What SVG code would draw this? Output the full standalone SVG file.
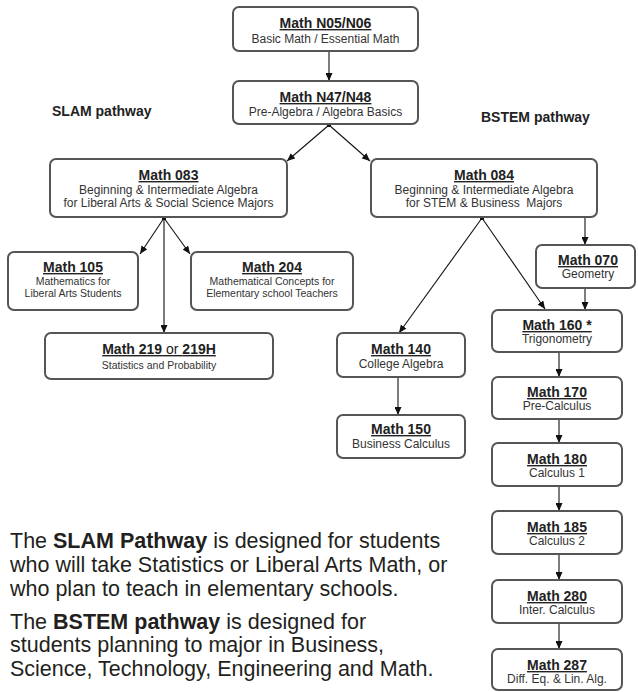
<svg xmlns="http://www.w3.org/2000/svg" width="638" height="692" viewBox="0 0 638 692">
<style>
.box{fill:#fff;stroke:#555;stroke-width:2}
.t{font-family:"Liberation Sans",Arial,sans-serif;font-weight:bold;font-size:14px;fill:#222;text-anchor:middle;text-decoration:underline}
.s{font-family:"Liberation Sans",Arial,sans-serif;font-size:12px;fill:#333;text-anchor:middle}
.ss{font-family:"Liberation Sans",Arial,sans-serif;font-size:10.5px;fill:#333;text-anchor:middle}
.lab{font-family:"Liberation Sans",Arial,sans-serif;font-weight:bold;font-size:14px;fill:#222}
.para{font-family:"Liberation Sans",Arial,sans-serif;font-size:21.5px;fill:#231f20}
.c{stroke:#111;stroke-width:1.1;fill:none;marker-end:url(#ah)}
.n{font-weight:normal}
</style>
<defs>
<marker id="ah" markerUnits="userSpaceOnUse" markerWidth="8" markerHeight="7" refX="8" refY="3.5" orient="auto">
<path d="M0,0 L8,3.5 L0,7 z" fill="#111"/>
</marker>
</defs>
<rect width="638" height="692" fill="#fff"/>

<g id="connectors">
<line class="c" x1="329" y1="51" x2="329" y2="81"/>
<rect x="327" y="123" width="4" height="4" fill="#111"/>
<line class="c" x1="329" y1="125" x2="287" y2="161"/>
<line class="c" x1="329" y1="125" x2="370" y2="161"/>
<rect x="162" y="216" width="4" height="4" fill="#111"/>
<line class="c" x1="164" y1="218" x2="140" y2="254"/>
<line class="c" x1="164" y1="218" x2="190" y2="254"/>
<line class="c" x1="164" y1="218" x2="164" y2="333"/>
<rect x="480" y="216" width="4" height="4" fill="#111"/>
<line class="c" x1="482" y1="218" x2="399" y2="333"/>
<line class="c" x1="482" y1="218" x2="545" y2="309"/>
<line class="c" x1="585" y1="217" x2="585" y2="245"/>
<line class="c" x1="585" y1="288" x2="585" y2="310"/>
<line class="c" x1="559" y1="352" x2="559" y2="377"/>
<line class="c" x1="398" y1="377" x2="398" y2="415"/>
<line class="c" x1="559" y1="419" x2="559" y2="443"/>
<line class="c" x1="559" y1="486" x2="559" y2="511"/>
<line class="c" x1="559" y1="554" x2="559" y2="580"/>
<line class="c" x1="559" y1="623" x2="559" y2="649"/>
</g>

<text class="lab" x="52" y="116">SLAM pathway</text>
<text class="lab" x="481" y="122">BSTEM pathway</text>

<g id="n05">
<rect class="box" x="233" y="7" width="185" height="44" rx="6"/>
<text class="t" x="325.5" y="28">Math N05/N06</text>
<text class="s" x="325.5" y="43">Basic Math / Essential Math</text>
</g>
<g id="n47">
<rect class="box" x="233" y="81" width="185" height="43" rx="6"/>
<text class="t" x="325.5" y="102">Math N47/N48</text>
<text class="s" x="325.5" y="116">Pre-Algebra / Algebra Basics</text>
</g>
<g id="m083">
<rect class="box" x="50" y="159" width="237" height="58" rx="6"/>
<text class="t" x="168.5" y="180">Math 083</text>
<text class="s" x="168.5" y="194">Beginning &amp; Intermediate Algebra</text>
<text class="s" x="168.5" y="207">for Liberal Arts &amp; Social Science Majors</text>
</g>
<g id="m084">
<rect class="box" x="371" y="159" width="226" height="58" rx="6"/>
<text class="t" x="484" y="180">Math 084</text>
<text class="s" x="484" y="194">Beginning &amp; Intermediate Algebra</text>
<text class="s" x="484" y="207" xml:space="preserve">for STEM &amp; Business  Majors</text>
</g>
<g id="m105">
<rect class="box" x="8" y="252" width="130" height="58" rx="6"/>
<text class="t" x="73" y="272">Math 105</text>
<text class="ss" x="73" y="285">Mathematics for</text>
<text class="ss" x="73" y="297">Liberal Arts Students</text>
</g>
<g id="m204">
<rect class="box" x="191" y="252" width="162" height="58" rx="6"/>
<text class="t" x="272" y="272">Math 204</text>
<text class="ss" x="272" y="285">Mathematical Concepts for</text>
<text class="ss" x="272" y="297">Elementary school Teachers</text>
</g>
<g id="m219">
<rect class="box" x="45" y="333" width="228" height="46" rx="6"/>
<text class="t" x="159" y="354">Math 219<tspan class="n"> or </tspan>219H</text>
<text class="ss" x="159" y="369">Statistics and Probability</text>
</g>
<g id="m140">
<rect class="box" x="337" y="333" width="128" height="44" rx="6"/>
<text class="t" x="401" y="354">Math 140</text>
<text class="s" x="401" y="368">College Algebra</text>
</g>
<g id="m150">
<rect class="box" x="337" y="415" width="128" height="43" rx="6"/>
<text class="t" x="401" y="434">Math 150</text>
<text class="s" x="401" y="448">Business Calculus</text>
</g>
<g id="m070">
<rect class="box" x="536" y="245" width="99" height="43" rx="6"/>
<text class="t" x="588" y="265">Math 070</text>
<text class="s" x="588" y="278">Geometry</text>
</g>
<g id="m160">
<rect class="box" x="492" y="310" width="130" height="42" rx="6"/>
<text class="t" x="557" y="330">Math 160 *</text>
<text class="s" x="557" y="343">Trigonometry</text>
</g>
<g id="m170">
<rect class="box" x="492" y="377" width="130" height="42" rx="6"/>
<text class="t" x="557" y="397">Math 170</text>
<text class="s" x="557" y="410">Pre-Calculus</text>
</g>
<g id="m180">
<rect class="box" x="492" y="443" width="130" height="43" rx="6"/>
<text class="t" x="557" y="464">Math 180</text>
<text class="s" x="557" y="477">Calculus 1</text>
</g>
<g id="m185">
<rect class="box" x="492" y="511" width="130" height="43" rx="6"/>
<text class="t" x="557" y="532">Math 185</text>
<text class="s" x="557" y="545">Calculus 2</text>
</g>
<g id="m280">
<rect class="box" x="492" y="580" width="130" height="43" rx="6"/>
<text class="t" x="557" y="601">Math 280</text>
<text class="s" x="557" y="614">Inter. Calculus</text>
</g>
<g id="m287">
<rect class="box" x="492" y="649" width="130" height="41" rx="6"/>
<text class="t" x="557" y="670">Math 287</text>
<text class="s" x="557" y="683">Diff. Eq. &amp; Lin. Alg.</text>
</g>

<g id="description">
<text class="para" x="10" y="548">The <tspan font-weight="bold">SLAM Pathway</tspan> is designed for students</text>
<text class="para" x="10" y="572">who will take Statistics or Liberal Arts Math, or</text>
<text class="para" x="10" y="596">who plan to teach in elementary schools.</text>
<text class="para" x="10" y="629">The <tspan font-weight="bold">BSTEM pathway</tspan> is designed for</text>
<text class="para" x="10" y="652">students planning to major in Business,</text>
<text class="para" x="10" y="676">Science, Technology, Engineering and Math.</text>
</g>
</svg>
